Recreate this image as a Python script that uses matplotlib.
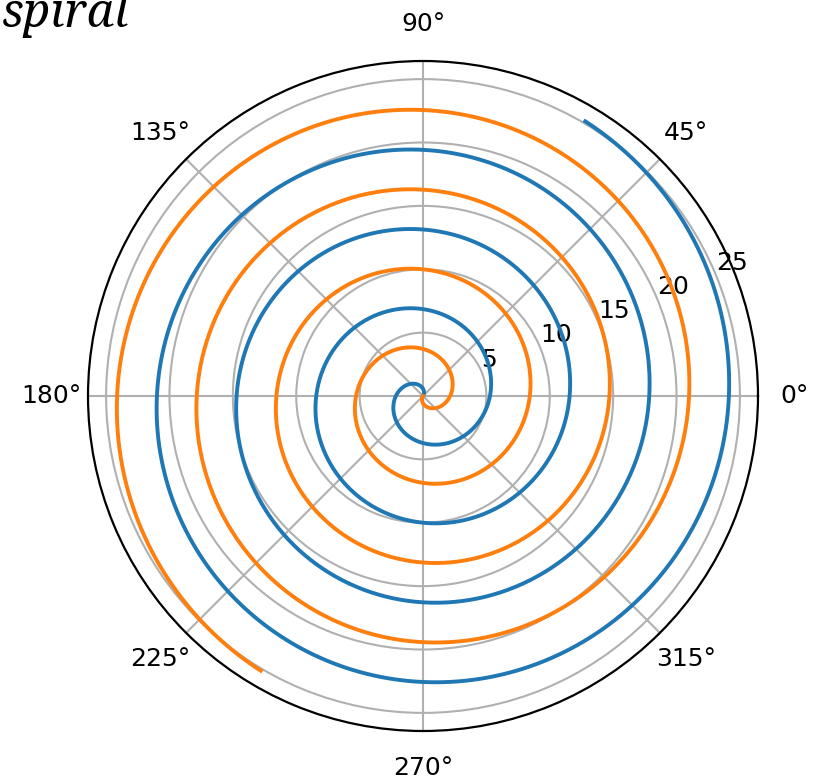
import matplotlib.pyplot as plt
import numpy as np

# spiral parameters: r = 0 at start_angle (rad), both arms wind out to r_end
start_angle = 1.0
r_end = 25.17
arm_offsets = [0.0, np.pi]  # second arm rotated half a turn
arm_colors = ["#1f77b4", "#ff7f0e"]

r = np.linspace(0, r_end, 2000)

fig = plt.figure(figsize=(8.24, 7.81), dpi=100)
ax = fig.add_axes([0.1068, 0.0640, 0.8131, 0.8579], projection="polar")

for offset, color in zip(arm_offsets, arm_colors):
    ax.plot(r + start_angle + offset, r, color=color, linewidth=2.8)

ax.set_rlim(0, r_end * 1.05)
ax.grid(True, linewidth=1.5, color="#b0b0b0")
ax.spines["polar"].set_linewidth(1.6)
ax.tick_params(axis="y", labelsize=18, pad=7)
ax.tick_params(axis="x", labelsize=18, pad=16)

fig.text(0.002, 1 - 27 / 781, "spiral", ha="left", va="baseline",
         fontsize=34, style="italic", family=["Noto Serif", "DejaVu Serif"])

fig.savefig("out.png", dpi=100)
